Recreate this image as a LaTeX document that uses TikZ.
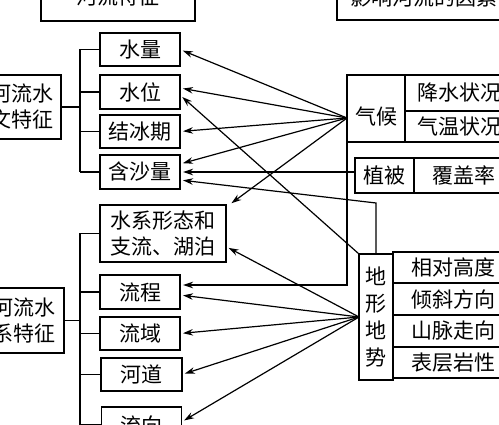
\documentclass[tikz,border=0pt]{standalone}
\usepackage{fontspec}
\newfontfamily\cjk{Noto Sans CJK SC}
\usetikzlibrary{
    arrows.meta,
    calc,
    positioning
}
\tikzset{
    every picture/.style = {
        > = {Stealth[length = 10pt, width = 6.5pt]},
        x = 1pt,
        y = -1pt
    },
    every node/.style = {
        inner sep = 0pt,
        outer sep = 0pt,
        align = center,
        font = \cjk\fontsize{21}{26}\selectfont
    },
    box/.style = {
        draw,
        line width = 1.4pt
    },
    item/.style = {
        box,
        minimum width = 80pt,
        minimum height = 33pt
    },
    link/.style = {
        line width = 1.3pt
    },
    arr/.style = {
        ->,
        line width = 1.2pt,
        shorten > = 3pt
    }
}

\begin{document}
\begin{tikzpicture}
    \clip (0,0) rectangle (499,425);

    % headings
    \node[box, minimum width = 154pt, minimum height = 48pt] (hlt) at (118,-3) {河流特征};
    \node[box, minimum width = 174pt, minimum height = 46pt] (yxys) at (424,-3) {影响河流的因素};

    % river features
    \node[box, minimum width = 78pt, minimum height = 64pt] (swtz) at (22,107) {河流水\\文特征};
    \node[item] (sl) at (140,49.5) {水量};
    \node[item, minimum height = 34pt] (sw) at (140,92) {水位};
    \node[item] (jbq) at (140,131.5) {结冰期};
    \node[item, minimum height = 34pt] (hsl) at (140,172) {含沙量};

    \node[box, minimum width = 80pt, minimum height = 65pt] (sxtz) at (24,320.5) {河流水\\系特征};
    \node[box, minimum width = 126pt, minimum height = 57pt] (sxxt) at (163,233.5) {水系形态和\\支流、湖泊};
    \node[item, minimum height = 34pt] (lc) at (140,292) {流程};
    \node[item] (ly) at (140,333.5) {流域};
    \node[item, minimum width = 81pt] (hd) at (141.5,374.5) {河道};
    \node[item, minimum height = 36pt] (lx) at (141.5,425) {流向};

    % factors
    \node[box, minimum width = 58pt, minimum height = 67pt] (qh) at (376,108.5) {};
    \node (qht) at (376,117) {气候};
    \node[box, minimum width = 108pt, minimum height = 36pt] (js) at (459,93) {降水状况};
    \node[box, minimum width = 108pt, minimum height = 31pt] (qw) at (459,126.5) {气温状况};

    \node[box, minimum width = 59pt, minimum height = 35pt] (zb) at (384.5,175.5) {植被};
    \node[box, minimum width = 100pt, minimum height = 35pt] (fgl) at (464,175.5) {覆盖率};

    \node[box, minimum width = 34pt, minimum height = 126pt, font = \cjk\fontsize{21}{27}\selectfont] (dx) at (376,317) {地\\形\\地\\势};
    \node[box, minimum width = 121pt, minimum height = 31pt] (xdgd) at (453.5,267.5) {相对高度};
    \node[box, minimum width = 121pt, minimum height = 32pt] (qxfx) at (453.5,299) {倾斜方向};
    \node[box, minimum width = 121pt, minimum height = 32pt] (smzx) at (453.5,331) {山脉走向};
    \node[box, minimum width = 121pt, minimum height = 31pt] (bcyx) at (453.5,362.5) {表层岩性};

    % brackets
    \coordinate (ja) at (80,0);
    \draw[link] (swtz.east) -- (swtz.east -| ja);
    \draw[link] (ja |- sl.west) -- (ja |- hsl.west);
    \foreach \n in {sl, sw, jbq, hsl}
        \draw[link] (ja |- \n.west) -- (\n.west);

    \draw[link] (sxtz.east) -- (sxtz.east -| ja);
    \draw[link] (ja |- sxxt.west) -- (ja |- lx.west);
    \foreach \n in {sxxt, lc, ly, hd, lx}
        \draw[link] (ja |- \n.west) -- (\n.west);

    % climate
    \coordinate (qhw) at ($(qh.west)+(0,9.5)$);
    \draw[arr] (qhw) -- (sl.east);
    \draw[arr] (qhw) -- ($(sw.east)+(0,-4)$);
    \draw[arr] (qhw) -- (jbq.east);
    \draw[arr] (qhw) -- ($(hsl.east)+(0,-8)$);
    \draw[arr] (qhw) -- ($(sxxt.north east)+(3,0)$);
    \draw[arr] (qh.south west) |- ($(lc.east)+(0,-7)$);

    % vegetation
    \draw[arr] (zb.west |- hsl.east) -- (hsl.east);

    % terrain
    \draw[arr] (dx.north west) -- ($(sw.east)+(0,3)$);
    \draw[arr] (dx.north) -- ++(0,-51) -- ($(hsl.east)+(0,8)$);
    \draw[arr] (dx.west) -- ($(sxxt.east)+(0,13)$);
    \draw[arr] (dx.west) -- ($(lc.east)+(0,3)$);
    \draw[arr] (dx.west) -- (ly.east);
    \draw[arr] (dx.west) -- (hd.east);
    \draw[arr] (dx.west) -- ($(lx.east)+(0,-3)$);
\end{tikzpicture}
\end{document}
